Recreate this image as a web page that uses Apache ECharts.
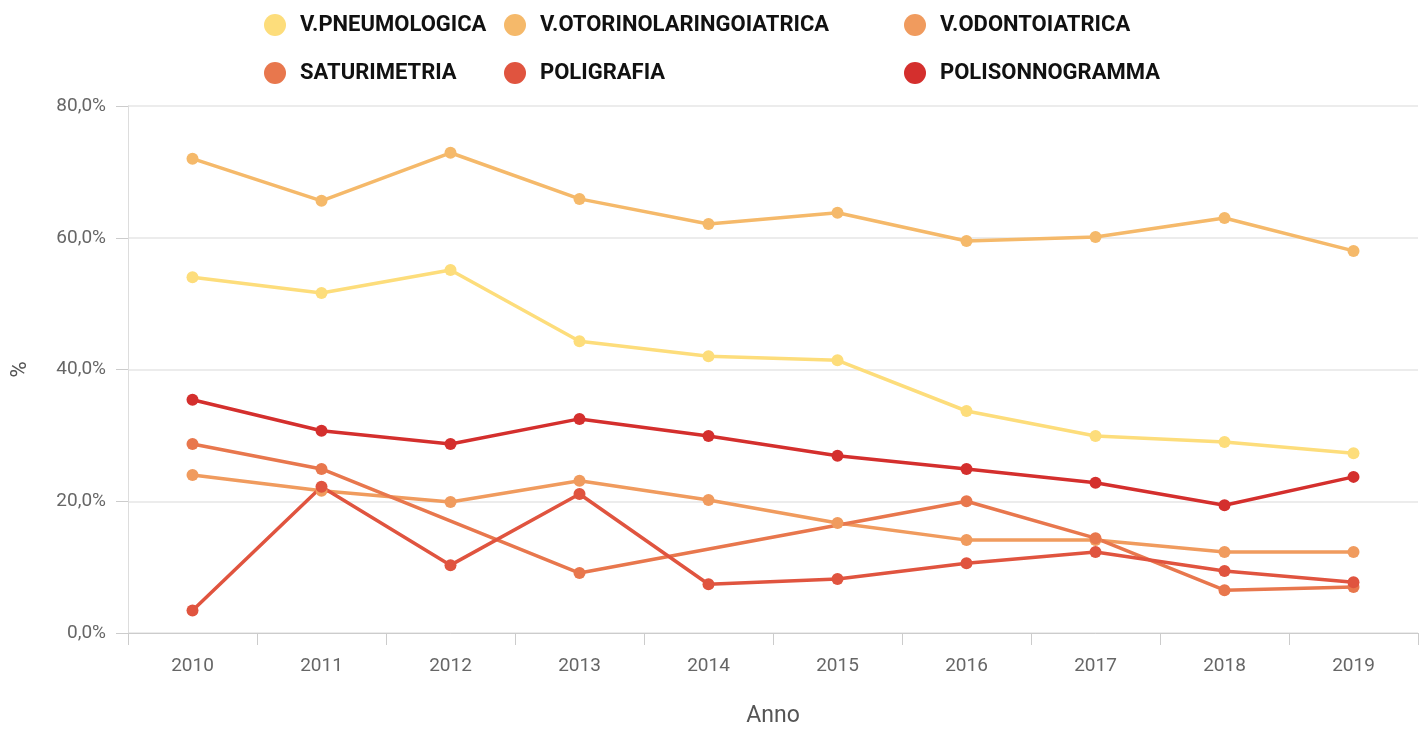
<!DOCTYPE html>
<html>
<head>
<meta charset="utf-8">
<script src="https://cdn.jsdelivr.net/npm/echarts@6/dist/echarts.min.js"></script>
<style>
  html, body { margin: 0; padding: 0; background: #fff; }
  #chart { width: 1424px; height: 729px; }
</style>
</head>
<body>
<div id="chart"></div>
<script>
// anni
const years = ['2010', '2011', '2012', '2013', '2014', '2015', '2016', '2017', '2018', '2019'];

// percentuali per prestazione
const pneumologica = [54.0, 51.6, 55.1, 44.3, 42.0, 41.4, 33.7, 29.9, 29.0, 27.3];
const otorino = [72.0, 65.6, 72.9, 65.9, 62.1, 63.8, 59.5, 60.1, 63.0, 58.0];
const odontoiatrica = [24.0, 21.6, 19.9, 23.1, 20.2, 16.7, 14.1, 14.1, 12.3, 12.3];
const saturimetria = [28.7, 24.9, null, 9.1, null, null, 20.0, 14.4, 6.5, 7.0];
const poligrafia = [3.4, 22.2, 10.3, 21.1, 7.4, 8.2, 10.6, 12.3, 9.4, 7.7];
const polisonno = [35.4, 30.7, 28.7, 32.5, 29.9, 26.9, 24.9, 22.8, 19.4, 23.7];

const yTicks = [0, 20, 40, 60, 80];

const colors = {
  pneumo: '#fddd7b',
  otorino: '#f5b96a',
  odonto: '#f09b5e',
  saturi: '#e8774d',
  poligrafia: '#e0543f',
  polisonno: '#d42f2d',
};

const chart = echarts.init(document.getElementById('chart'), null, { renderer: 'canvas' });

function legendCol(left, names) {
  return {
    left: left,
    top: 9,
    orient: 'vertical',
    icon: 'circle',
    itemWidth: 22,
    itemHeight: 22,
    itemGap: 26,
    data: names,
    textStyle: {
      fontFamily: 'Roboto',
      fontWeight: 'bold',
      fontSize: 22,
      color: '#111',
      padding: [0, 0, 0, 9],
    },
  };
}

function line(name, color, data) {
  return {
    name: name,
    type: 'line',
    data: data,
    color: color,
    connectNulls: true,
    symbol: 'circle',
    symbolSize: 12,
    lineStyle: { width: 3.5 },
    z: 3,
  };
}

chart.setOption({
  animation: false,
  textStyle: { fontFamily: 'Roboto' },
  legend: [
    legendCol(259, ['V.PNEUMOLOGICA', 'SATURIMETRIA']),
    legendCol(499, ['V.OTORINOLARINGOIATRICA', 'POLIGRAFIA']),
    legendCol(899, ['V.ODONTOIATRICA', 'POLISONNOGRAMMA']),
  ],
  grid: { left: 128, right: 6, top: 106, bottom: 96, outerBoundsMode: 'none', containLabel: false },
  xAxis: {
    type: 'category',
    data: years,
    boundaryGap: true,
    name: 'Anno',
    nameLocation: 'middle',
    nameGap: 72,
    nameTextStyle: { fontSize: 23, color: '#555' },
    axisLine: { lineStyle: { color: '#ccc', width: 1 } },
    axisTick: { show: true, length: 12, lineStyle: { color: '#ccc' } },
    axisLabel: { fontSize: 19, color: '#666', margin: 24 },
  },
  yAxis: {
    type: 'value',
    min: yTicks[0],
    max: yTicks[yTicks.length - 1],
    interval: 20,
    name: '%',
    nameLocation: 'middle',
    nameGap: 97,
    nameRotate: 90,
    nameTextStyle: { fontSize: 22, color: '#555' },
    axisLine: { show: true, lineStyle: { color: '#ddd' } },
    axisTick: { show: true, length: 12, lineStyle: { color: '#ccc' } },
    splitLine: { lineStyle: { color: '#e6e6e6', width: 1.5 } },
    axisLabel: {
      fontSize: 19,
      color: '#666',
      margin: 22,
      formatter: (v) => v.toFixed(1).replace('.', ',') + '%',
    },
  },
  series: [
    line('V.PNEUMOLOGICA', colors.pneumo, pneumologica),
    line('V.OTORINOLARINGOIATRICA', colors.otorino, otorino),
    line('V.ODONTOIATRICA', colors.odonto, odontoiatrica),
    line('SATURIMETRIA', colors.saturi, saturimetria),
    line('POLIGRAFIA', colors.poligrafia, poligrafia),
    line('POLISONNOGRAMMA', colors.polisonno, polisonno),
  ],
});
</script>
</body>
</html>
